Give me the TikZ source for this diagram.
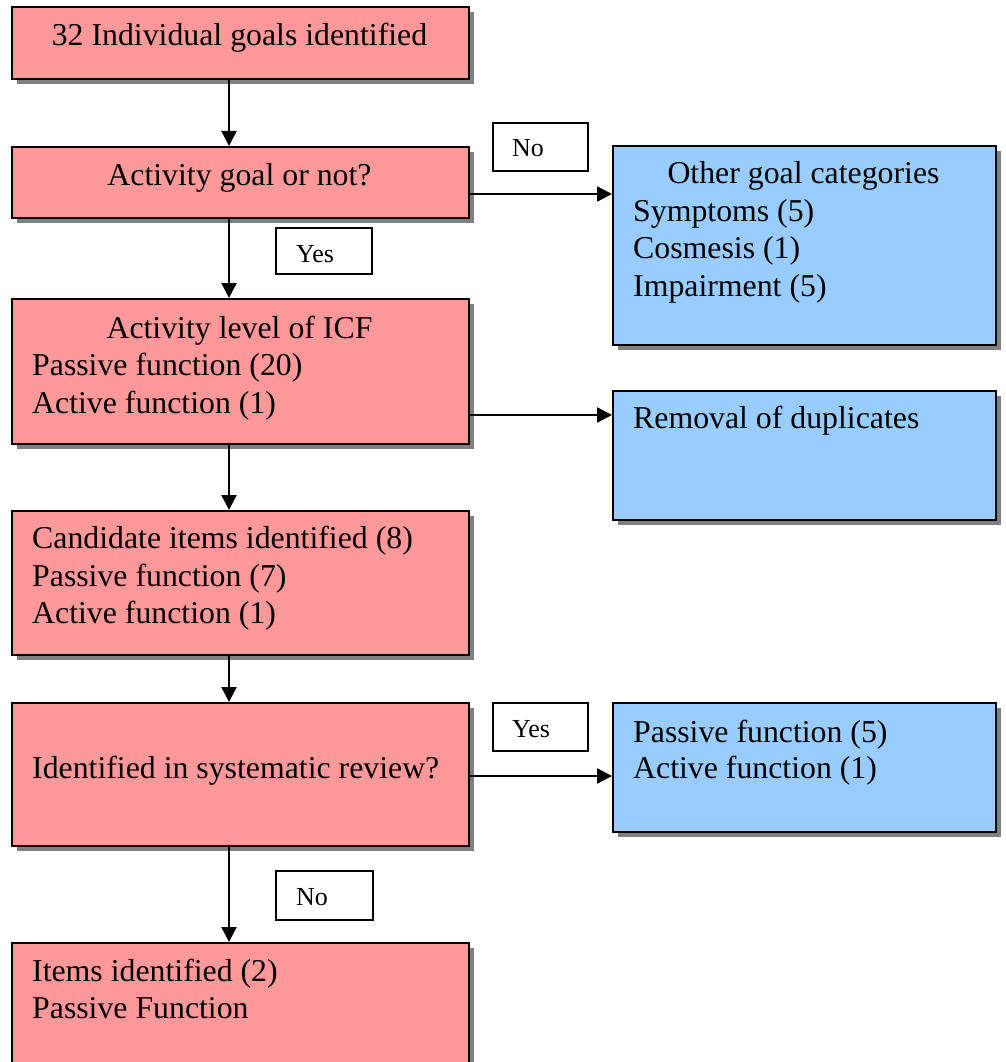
\documentclass[tikz,border=0pt]{standalone}
\usepackage{fontspec}
\setmainfont{Liberation Serif}
\usetikzlibrary{shadows,arrows.meta,calc}

\definecolor{pinkfill}{HTML}{FF9999}
\definecolor{bluefill}{HTML}{99CCFF}
\definecolor{shadowgray}{HTML}{808080}

\tikzset{
  box/.style={draw=black, line width=2pt, inner sep=0pt, anchor=north west,
    drop shadow={shadow xshift=5pt, shadow yshift=-5pt, fill=shadowgray, opacity=1}},
  pinkbox/.style={box, fill=pinkfill, minimum width=457pt},
  bluebox/.style={box, fill=bluefill, minimum width=383pt},
  tag/.style={draw=black, line width=1.6pt, fill=white, inner sep=0pt, anchor=north west},
  txt/.style={font=\fontsize{31.8}{37.5}\selectfont, inner sep=0pt, anchor=base west},
  ctxt/.style={txt, anchor=base},
  tagtxt/.style={font=\fontsize{26}{30}\selectfont, inner sep=0pt, anchor=base west},
  arr/.style={line width=2.3pt, -{Triangle[length=15pt,width=15pt]}},
}

\begin{document}
\begin{tikzpicture}[x=1pt,y=-1pt]
\useasboundingbox (0,0) rectangle (1005,1062);

% main column
\node[pinkbox, minimum height=72pt]  (P1) at (11,6) {};
\node[pinkbox, minimum height=71pt]  (P2) at (11,146) {};
\node[pinkbox, minimum height=145pt] (P3) at (11,298) {};
\node[pinkbox, minimum height=144pt] (P4) at (11,510) {};
\node[pinkbox, minimum height=143pt] (P5) at (11,702) {};
\node[pinkbox, minimum height=140pt] (P6) at (11,942) {};

% side column
\node[bluebox, minimum height=199pt] (B1) at (612,145) {};
\node[bluebox, minimum height=129pt] (B2) at (612,390) {};
\node[bluebox, minimum height=129pt] (B3) at (612,702) {};

% decision labels
\node[tag, minimum width=95pt, minimum height=48pt] (L1) at (492,122) {};
\node[tag, minimum width=96pt, minimum height=46pt] (L2) at (275,227) {};
\node[tag, minimum width=95pt, minimum height=48pt] (L3) at (492,702) {};
\node[tag, minimum width=97pt, minimum height=49pt] (L4) at (275,870) {};
\node[tagtxt] (l1) at (512,156) {No};
\node[tagtxt] (l2) at (296,262) {Yes};
\node[tagtxt] (l3) at (512,737) {Yes};
\node[tagtxt] (l4) at (296,905) {No};

% box texts
\node[ctxt] (t1) at (239.5,46) {32 Individual goals identified};
\node[ctxt] (t2) at (239.5,185) {Activity goal or not?};
\node[ctxt] (t3a) at (239.5,338) {Activity level of ICF};
\node[txt] (t3b) at (32,375) {Passive function (20)};
\node[txt] (t3c) at (32,413) {Active function (1)};
\node[txt] (t4a) at (32,548) {Candidate items identified (8)};
\node[txt] (t4b) at (32,586) {Passive function (7)};
\node[txt] (t4c) at (32,623) {Active function (1)};
\node[txt] (t5) at (32,778) {Identified in systematic review?};
\node[txt] (t6a) at (32,981) {Items identified (2)};
\node[txt] (t6b) at (32,1018) {Passive Function};

\node[ctxt] (b1a) at (803.5,183) {Other goal categories};
\node[txt] (b1b) at (633,221) {Symptoms (5)};
\node[txt] (b1c) at (633,258) {Cosmesis (1)};
\node[txt] (b1d) at (633,296) {Impairment (5)};
\node[txt] (b2a) at (633,428) {Removal of duplicates};
\node[txt] (b3a) at (633,742) {Passive function (5)};
\node[txt] (b3b) at (633,778) {Active function (1)};

% vertical flow
\draw[arr] ([xshift=-11.5pt]P1.south) -- ([xshift=-11.5pt]P2.north);
\draw[arr] ([xshift=-11.5pt]P2.south) -- ([xshift=-11.5pt]P3.north);
\draw[arr] ([xshift=-11.5pt]P3.south) -- ([xshift=-11.5pt]P4.north);
\draw[arr] ([xshift=-11.5pt]P4.south) -- ([xshift=-11.5pt]P5.north);
\draw[arr] ([xshift=-11.5pt]P5.south) -- ([xshift=-11.5pt]P6.north);

% branches to the side
\coordinate (a1) at ($(P2.east)+(0,11.5)$);
\coordinate (a2) at ($(P3.east)+(0,43.5)$);
\coordinate (a3) at ($(P5.east)+(0,1.5)$);
\draw[arr] (a1) -- (a1 -| B1.west);
\draw[arr] (a2) -- (a2 -| B2.west);
\draw[arr] (a3) -- (a3 -| B3.west);
\end{tikzpicture}
\end{document}
